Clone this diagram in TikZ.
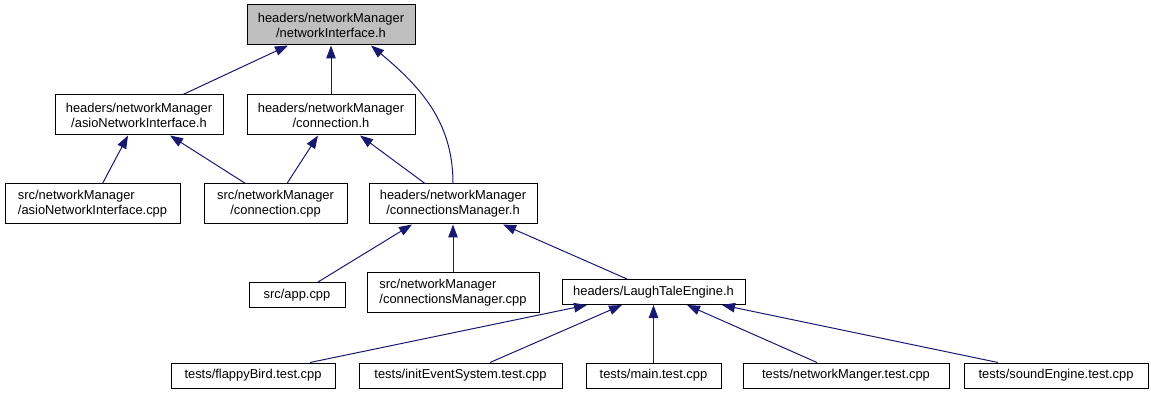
\documentclass[tikz,border=0pt]{standalone}
\usepackage{fontspec}
\setmainfont{Liberation Sans}
\usepackage{xcolor}
\usepackage{tikz}
\usetikzlibrary{arrows.meta}

\definecolor{edgeblue}{HTML}{191970}
\definecolor{rootgray}{HTML}{BFBFBF}

\begin{document}
\begin{tikzpicture}[
  x=1pt, y=-1pt,
  every node/.style={font=\fontsize{12.9}{15}\selectfont},
  file/.style={rectangle, draw=black, line width=1pt, fill=white,
               inner sep=0pt, align=center, minimum height=25pt},
  twoline/.style={file, minimum height=40pt},
  root/.style={twoline, fill=rootgray},
  arrow/.style={{Triangle[length=13pt, width=9.5pt]}-, draw=edgeblue, line width=1pt},
]
\useasboundingbox (0,0) rectangle (1151,395);

% headers
\node[root, minimum width=168pt]    (ni)   at (331,25)    {headers/networkManager\\/networkInterface.h};
\node[twoline, minimum width=168pt] (anih) at (139,115)   {headers/networkManager\\/asioNetworkInterface.h};
\node[twoline, minimum width=168pt] (conh) at (331,115)   {headers/networkManager\\/connection.h};
\node[twoline, minimum width=168pt] (cmh)  at (453,204)   {headers/networkManager\\/connectionsManager.h};
\node[file, minimum width=183pt]    (lte)  at (653.5,292) {headers/LaughTaleEngine.h};

% sources
\node[twoline, minimum width=175pt, align=left] (anic) at (92.5,204)  {src/networkManager\\/asioNetworkInterface.cpp};
\node[twoline, minimum width=143pt]              (conc) at (275.5,204) {src/networkManager\\/connection.cpp};
\node[file, minimum width=96pt]                  (app)  at (297,295)   {src/app.cpp};
\node[twoline, minimum width=172pt, align=left]  (cmc)  at (453,293)   {src/networkManager\\/connectionsManager.cpp};

% tests
\node[file, minimum width=164pt] (fb) at (253,375.5)   {tests/flappyBird.test.cpp};
\node[file, minimum width=203pt] (ies) at (460.5,375.5) {tests/initEventSystem.test.cpp};
\node[file, minimum width=135pt] (mt) at (653.5,375.5) {tests/main.test.cpp};
\node[file, minimum width=206pt] (nm) at (846,375.5)   {tests/networkManger.test.cpp};
\node[file, minimum width=184pt] (se) at (1056,375.5)  {tests/soundEngine.test.cpp};

% includes (arrow points at the included file)
\draw[arrow] ([xshift=-43pt]ni.south) -- ([xshift=44pt]anih.north);
\draw[arrow] (ni.south) -- (conh.north);
\draw[arrow] ([xshift=40pt]ni.south) to[out=-40, in=90] (cmh.north);
\draw[arrow] ([xshift=-11pt]anih.south) -- ([xshift=10pt]anic.north);
\draw[arrow] ([xshift=31pt]anih.south) -- ([xshift=-30pt]conc.north);
\draw[arrow] ([xshift=-13pt]conh.south) -- ([xshift=11.5pt]conc.north);
\draw[arrow] ([xshift=29pt]conh.south) -- ([xshift=-28pt]cmh.north);
\draw[arrow] ([xshift=-41pt]cmh.south) -- ([xshift=21pt]app.north);
\draw[arrow] (cmh.south) -- (cmc.north);
\draw[arrow] ([xshift=50pt]cmh.south) -- ([xshift=-26.5pt]lte.north);
\draw[arrow] ([xshift=-66.5pt]lte.south) -- ([xshift=57pt]fb.north);
\draw[arrow] ([xshift=-31.5pt]lte.south) -- ([xshift=29.5pt]ies.north);
\draw[arrow] (lte.south) -- (mt.north);
\draw[arrow] ([xshift=33.5pt]lte.south) -- ([xshift=-29pt]nm.north);
\draw[arrow] ([xshift=68.5pt]lte.south) -- ([xshift=-58pt]se.north);
\end{tikzpicture}
\end{document}
